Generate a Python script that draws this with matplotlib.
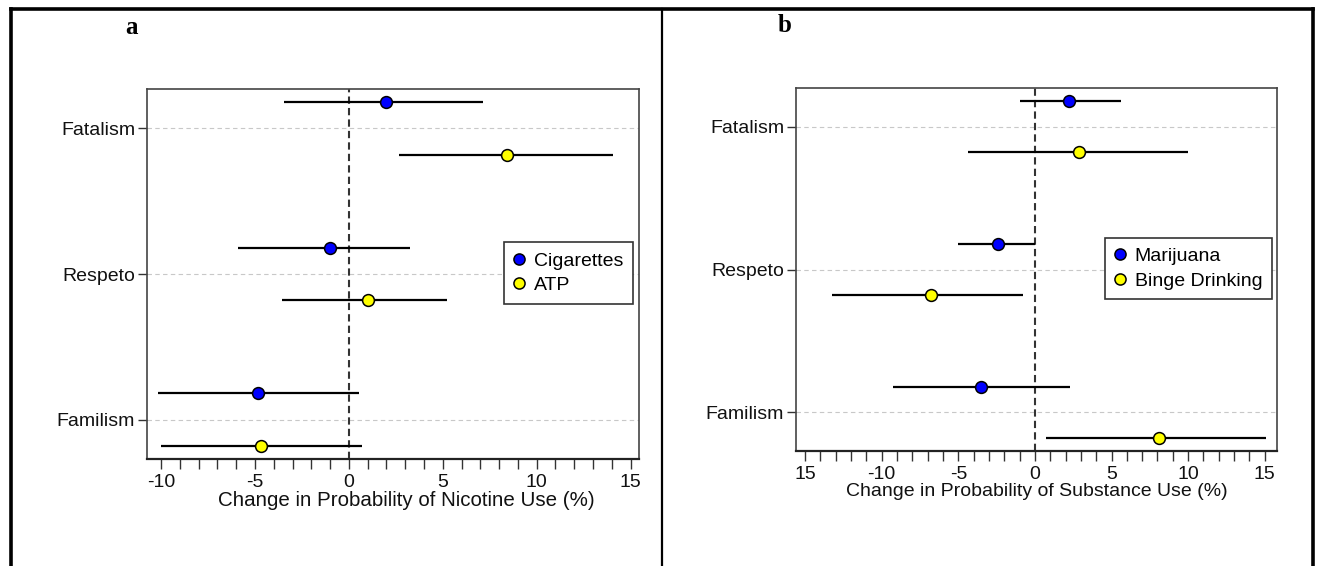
"""
Forest plots: change in probability of nicotine / substance use by cultural value.
"""

import matplotlib

matplotlib.use("Agg")
import matplotlib.pyplot as plt
from matplotlib.lines import Line2D

# ── Data ──────────────────────────────────────────────────────
categories = ["Fatalism", "Respeto", "Familism"]

# panel a: nicotine use
cig_est = [2.0, -1.0, -4.85]
cig_lo = [-3.45, -5.9, -10.15]
cig_hi = [7.15, 3.25, 0.55]

atp_est = [8.4, 1.0, -4.7]
atp_lo = [2.65, -3.55, -10.0]
atp_hi = [14.05, 5.2, 0.7]

# panel b: substance use
mar_est = [2.25, -2.4, -3.55]
mar_lo = [-0.95, -5.0, -9.25]
mar_hi = [5.65, 0.0, 2.3]

binge_est = [2.9, -6.8, 8.1]
binge_lo = [-4.35, -13.25, 0.7]
binge_hi = [10.0, -0.8, 15.1]

ticks_a = [-10, -5, 0, 5, 10, 15]
ticklabels_a = ["-10", "-5", "0", "5", "10", "15"]
ticks_b = [-15, -10, -5, 0, 5, 10, 15]
ticklabels_b = ["15", "-10", "-5", "0", "5", "10", "15"]

# ── Styling ───────────────────────────────────────────────────
BLUE = "#0000FF"
YELLOW = "#FFFF00"
FONT = ["Liberation Sans", "DejaVu Sans"]
FS = 14

plt.rcParams.update({"font.family": FONT, "font.size": FS})


def forest(ax, series, xlim, ticks, ticklabels, xlabel, xlabel_x, xlabel_fs,
           legend_anchor):
    ypos = [3, 2, 1]
    offsets = [0.18, -0.18]
    handles = []
    for (label, color, est, lo, hi), off in zip(series, offsets):
        ys = [y + off for y in ypos]
        ax.hlines(ys, lo, hi, color="black", lw=1.6, zorder=3)
        ax.plot(est, ys, "o", ms=8.5, mfc=color, mec="black", mew=1.1, zorder=4)
        handles.append(
            Line2D([], [], marker="o", ls="none", ms=8, mfc=color,
                   mec="black", mew=1.1, label=label)
        )

    for y in ypos:
        ax.axhline(y, color="#c8c8c8", lw=0.8, ls=(0, (4, 3)), zorder=1)
    ax.axvline(0, color="#333333", lw=1.5, ls=(0, (3.5, 2)), zorder=2)

    ax.set_xlim(*xlim)
    ax.set_ylim(0.73, 3.27)
    ax.set_yticks(ypos)
    ax.set_yticklabels(categories)
    ax.set_xticks(ticks)
    ax.set_xticklabels(ticklabels)
    ax.set_xticks(range(ticks[0], ticks[-1] + 1), minor=True)
    ax.tick_params(axis="x", which="both", length=7, width=1.0,
                   color="#333333", pad=4, labelsize=FS, labelcolor="#111111")
    ax.tick_params(axis="y", length=6.5, width=1.0, color="#333333",
                   pad=2, labelsize=FS, labelcolor="#111111")
    for sp in ax.spines.values():
        sp.set_color("#444444")
        sp.set_linewidth(1.2)
    ax.spines["bottom"].set_color("#222222")
    ax.spines["bottom"].set_linewidth(1.6)
    ax.set_xlabel(xlabel, fontsize=xlabel_fs, labelpad=0, color="#111111")
    ax.xaxis.label.set_x(xlabel_x)

    leg = ax.legend(handles=handles, loc="upper right",
                    bbox_to_anchor=legend_anchor, fancybox=False,
                    framealpha=1, edgecolor="#333333", handletextpad=0.5,
                    handlelength=0.55, borderpad=0.5, labelspacing=0.35,
                    fontsize=FS, borderaxespad=0)
    leg.get_frame().set_linewidth(1.2)


fig = plt.figure(figsize=(13.2, 5.66), dpi=100)
fig.patch.set_facecolor("white")

ax_a = fig.add_axes([0.1114, 0.189, 0.3727, 0.6537])
ax_b = fig.add_axes([0.603, 0.2032, 0.3644, 0.6413])

forest(
    ax_a,
    [("Cigarettes", BLUE, cig_est, cig_lo, cig_hi),
     ("ATP", YELLOW, atp_est, atp_lo, atp_hi)],
    (-10.75, 15.45), ticks_a, ticklabels_a,
    "Change in Probability of Nicotine Use (%)", 0.528, 14.8, (0.988, 0.586),
)
forest(
    ax_b,
    [("Marijuana", BLUE, mar_est, mar_lo, mar_hi),
     ("Binge Drinking", YELLOW, binge_est, binge_lo, binge_hi)],
    (-15.6, 15.8), ticks_b, ticklabels_b,
    "Change in Probability of Substance Use (%)", 0.5, 14, (0.99, 0.587),
)

# ── Outer frame and panel labels ─────────────────────────────
x_l, x_r, x_mid, y_top = 11 / 1320, 1313 / 1320, 662 / 1320, 1 - 9 / 566
frame_kw = dict(color="black", transform=fig.transFigure)
fig.add_artist(Line2D([x_l, x_r], [y_top, y_top], lw=2.6, **frame_kw))
fig.add_artist(Line2D([x_l, x_l], [0, y_top], lw=2.6, **frame_kw))
fig.add_artist(Line2D([x_r, x_r], [0, y_top], lw=2.6, **frame_kw))
fig.add_artist(Line2D([x_mid, x_mid], [0, y_top], lw=1.6, **frame_kw))

serif = ["Liberation Serif", "DejaVu Serif"]
fig.text(132 / 1320, 1 - 27 / 566, "a", family=serif, fontweight="bold",
         fontsize=18, ha="center", va="center")
fig.text(785 / 1320, 1 - 25 / 566, "b", family=serif, fontweight="bold",
         fontsize=18, ha="center", va="center")

fig.savefig("out.png", dpi=100, facecolor="white")
